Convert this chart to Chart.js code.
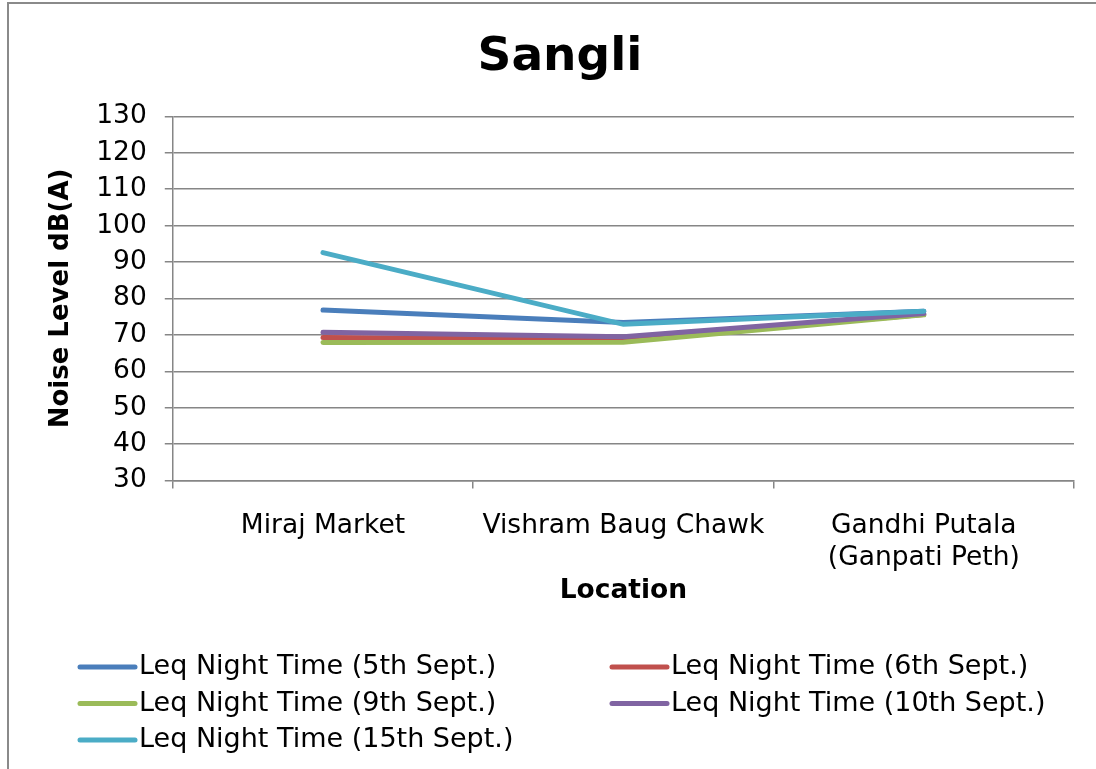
<!DOCTYPE html>
<html>
<head>
<meta charset="utf-8">
<script src="https://cdn.jsdelivr.net/npm/chart.js@4"></script>
<style>
  html, body { margin: 0; padding: 0; background: #fff; overflow: hidden; }
  .wrap { position: relative; width: 1096px; height: 769px; }
  .frame { position: absolute; left: 7px; top: 2px; width: 1200px; height: 900px; border: 2px solid #8a8a8a; }
  canvas { position: absolute; left: 0; top: 0; }
</style>
</head>
<body>
<div class="wrap">
  <div class="frame"></div>
  <canvas id="noiseChart" width="1096" height="769"></canvas>
</div>
<script>
// * data kebisingan malam - Sangli
const lokasi = ["Miraj Market", "Vishram Baug Chawk", ["Gandhi Putala", "(Ganpati Peth)"]];
const seriesNama = [
  "Leq Night Time (5th Sept.)",
  "Leq Night Time (6th Sept.)",
  "Leq Night Time (9th Sept.)",
  "Leq Night Time (10th Sept.)",
  "Leq Night Time (15th Sept.)",
];
const sept5 = [76.8, 73.4, 76.5];
const sept6 = [69.3, 68.7, 75.6];
const sept9 = [67.9, 68.0, 75.5];
const sept10 = [70.7, 69.5, 75.9];
const sept15 = [92.6, 72.9, 76.5];
const warna = ["#4a7ebb", "#c0504d", "#9bbb59", "#8064a2", "#4bacc6"];

const fontFam = "'DejaVu Sans', Verdana, sans-serif";
const allSeries = [sept5, sept6, sept9, sept10, sept15];

// ? legend manual 2 kolom
const legendPlugin = {
  id: "legend2col",
  afterDraw(chart) {
    const ctx = chart.ctx;
    ctx.save();
    ctx.font = "27px " + fontFam;
    ctx.textBaseline = "middle";
    chart.data.datasets.forEach((ds, i) => {
      const col = i % 2;
      const row = Math.floor(i / 2);
      const x = col === 0 ? 80 : 612;
      const y = 667 + row * 36.5;
      ctx.strokeStyle = ds.borderColor;
      ctx.lineWidth = 5;
      ctx.lineCap = "round";
      ctx.beginPath();
      ctx.moveTo(x, y);
      ctx.lineTo(x + 55, y);
      ctx.stroke();
      ctx.fillStyle = "#000";
      ctx.fillText(ds.label, x + 59, y);
    });
    ctx.restore();
  },
};

const ctxNoise = document.getElementById("noiseChart").getContext("2d");
const noiseChart = new Chart(ctxNoise, {
  type: "line",
  data: {
    labels: lokasi,
    datasets: allSeries.map((d, i) => ({
      label: seriesNama[i],
      data: d,
      borderColor: warna[i],
      backgroundColor: warna[i],
      borderWidth: 5,
      pointRadius: 0,
      tension: 0,
      order: 5 - i,
      borderCapStyle: "round",
    })),
  },
  options: {
    responsive: false,
    animation: false,
    layout: { padding: { left: 46, right: 22, top: 0, bottom: 162 } },
    plugins: {
      legend: { display: false },
      tooltip: { enabled: false },
      title: {
        display: true,
        text: "Sangli",
        color: "#000",
        font: { family: fontFam, size: 47, weight: "bold" },
        padding: { top: 30, bottom: 30 },
      },
    },
    scales: {
      x: {
        offset: true,
        grid: { offset: true, drawOnChartArea: false, color: "#868686", lineWidth: 1.5, tickLength: 8 },
        border: { color: "#868686", width: 1.5 },
        ticks: {
          color: "#000",
          padding: 21,
          maxRotation: 0,
          font: { family: fontFam, size: 26.5, lineHeight: 1.22 },
        },
        title: {
          display: true,
          text: "Location",
          color: "#000",
          font: { family: fontFam, size: 26.5, weight: "bold" },
          padding: { top: -20, bottom: 0 },
        },
      },
      y: {
        min: 30,
        max: 130,
        ticks: {
          stepSize: 10,
          color: "#000",
          padding: 18,
          font: { family: fontFam, size: 26.5 },
        },
        grid: { color: "#868686", lineWidth: 1.5, tickLength: 8 },
        border: { color: "#868686", width: 1.5 },
        title: {
          display: true,
          text: "Noise Level dB(A)",
          color: "#000",
          font: { family: fontFam, size: 26, weight: "bold" },
          padding: { top: 0, bottom: 1 },
        },
      },
    },
  },
  plugins: [legendPlugin],
});
</script>
</body>
</html>
